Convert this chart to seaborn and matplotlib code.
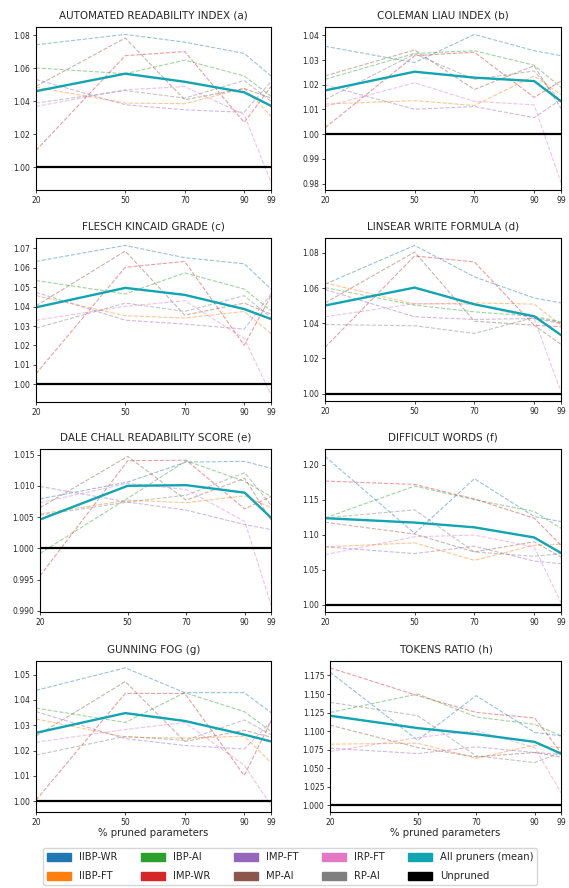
"""
Readability metrics vs. pruning level, normalised to the unpruned model.
Eight panels, one per metric, plus a shared legend at the bottom.
"""

import matplotlib
matplotlib.use("Agg")
import matplotlib.pyplot as plt
from matplotlib.patches import Patch
import pandas as pd
import seaborn as sns

# --- data ------------------------------------------------------------------
sparsity = [20, 50, 70, 90, 99]
pruners = ["IIBP-WR", "IIBP-FT", "IBP-AI", "IMP-WR", "IMP-FT", "MP-AI", "IRP-FT", "RP-AI"]
unpruned = [1.0, 1.0, 1.0, 1.0, 1.0]

ari = {
    "IIBP-WR": [1.0743, 1.0806, 1.0759, 1.0691, 1.0554],
    "IIBP-FT": [1.0486, 1.0390, 1.0386, 1.0480, 1.0310],
    "IBP-AI":  [1.0603, 1.0568, 1.0650, 1.0554, 1.0431],
    "IMP-WR":  [1.0103, 1.0677, 1.0702, 1.0273, 1.0490],
    "IMP-FT":  [1.0533, 1.0380, 1.0349, 1.0334, 1.0520],
    "MP-AI":   [1.0492, 1.0784, 1.0410, 1.0478, 1.0420],
    "IRP-FT":  [1.0369, 1.0470, 1.0490, 1.0320, 0.9908],
    "RP-AI":   [1.0390, 1.0466, 1.0420, 1.0527, 1.0400],
}
ari_mean = [1.0462, 1.0568, 1.0519, 1.0455, 1.0373]

cli = {
    "IIBP-WR": [1.0356, 1.0290, 1.0404, 1.0338, 1.0318],
    "IIBP-FT": [1.0122, 1.0136, 1.0116, 1.0236, 1.0160],
    "IBP-AI":  [1.0222, 1.0327, 1.0338, 1.0279, 1.0190],
    "IMP-WR":  [1.0026, 1.0318, 1.0332, 1.0149, 1.0215],
    "IMP-FT":  [1.0199, 1.0101, 1.0112, 1.0067, 1.0140],
    "MP-AI":   [1.0236, 1.0341, 1.0181, 1.0277, 1.0105],
    "IRP-FT":  [1.0112, 1.0208, 1.0133, 1.0119, 0.9804],
    "RP-AI":   [1.0140, 1.0325, 1.0222, 1.0256, 1.0133],
}
cli_mean = [1.0177, 1.0253, 1.0229, 1.0215, 1.0133]

fkg = {
    "IIBP-WR": [1.0632, 1.0714, 1.0651, 1.0620, 1.0490],
    "IIBP-FT": [1.0456, 1.0353, 1.0341, 1.0375, 1.0262],
    "IBP-AI":  [1.0534, 1.0465, 1.0573, 1.0490, 1.0379],
    "IMP-WR":  [1.0055, 1.0602, 1.0632, 1.0201, 1.0456],
    "IMP-FT":  [1.0473, 1.0330, 1.0310, 1.0284, 1.0465],
    "MP-AI":   [1.0404, 1.0685, 1.0356, 1.0418, 1.0361],
    "IRP-FT":  [1.0330, 1.0401, 1.0430, 1.0236, 0.9948],
    "RP-AI":   [1.0289, 1.0418, 1.0375, 1.0456, 1.0344],
}
fkg_mean = [1.0396, 1.0496, 1.0460, 1.0387, 1.0336]

lwf = {
    "IIBP-WR": [1.0622, 1.0843, 1.0664, 1.0544, 1.0516],
    "IIBP-FT": [1.0630, 1.0509, 1.0516, 1.0509, 1.0389],
    "IBP-AI":  [1.0603, 1.0503, 1.0465, 1.0440, 1.0408],
    "IMP-WR":  [1.0263, 1.0783, 1.0749, 1.0389, 1.0380],
    "IMP-FT":  [1.0592, 1.0437, 1.0422, 1.0427, 1.0399],
    "MP-AI":   [1.0516, 1.0805, 1.0412, 1.0389, 1.0280],
    "IRP-FT":  [1.0437, 1.0512, 1.0508, 1.0427, 1.0011],
    "RP-AI":   [1.0393, 1.0386, 1.0342, 1.0433, 1.0403],
}
lwf_mean = [1.0501, 1.0603, 1.0508, 1.0440, 1.0333]

dcr = {
    "IIBP-WR": [1.0079, 1.0106, 1.0138, 1.0139, 1.0128],
    "IIBP-FT": [1.0055, 1.0077, 1.0073, 1.0084, 1.0065],
    "IBP-AI":  [0.9992, 1.0080, 1.0140, 1.0107, 1.0083],
    "IMP-WR":  [0.9956, 1.0140, 1.0141, 1.0063, 1.0083],
    "IMP-FT":  [1.0099, 1.0074, 1.0061, 1.0038, 1.0030],
    "MP-AI":   [1.0065, 1.0147, 1.0077, 1.0112, 1.0045],
    "IRP-FT":  [1.0073, 1.0104, 1.0094, 1.0043, 0.9910],
    "RP-AI":   [1.0053, 1.0074, 1.0085, 1.0121, 1.0069],
}
dcr_mean = [1.0046, 1.0100, 1.0101, 1.0089, 1.0049]

dw = {
    "IIBP-WR": [1.2121, 1.1019, 1.1802, 1.1261, 1.1188],
    "IIBP-FT": [1.0826, 1.0884, 1.0633, 1.0850, 1.0865],
    "IBP-AI":  [1.1240, 1.1696, 1.1502, 1.1333, 1.1092],
    "IMP-WR":  [1.1768, 1.1720, 1.1512, 1.1237, 1.0850],
    "IMP-FT":  [1.0826, 1.0730, 1.0836, 1.0623, 1.0585],
    "MP-AI":   [1.1179, 1.1010, 1.0754, 1.0899, 1.0681],
    "IRP-FT":  [1.0715, 1.0971, 1.0995, 1.0826, 1.0029],
    "RP-AI":   [1.1240, 1.1357, 1.0754, 1.0691, 1.0730],
}
dw_mean = [1.1237, 1.1174, 1.1106, 1.0961, 1.0739]

gf = {
    "IIBP-WR": [1.0438, 1.0527, 1.0429, 1.0429, 1.0350],
    "IIBP-FT": [1.0325, 1.0253, 1.0249, 1.0257, 1.0152],
    "IBP-AI":  [1.0368, 1.0311, 1.0429, 1.0354, 1.0276],
    "IMP-WR":  [1.0004, 1.0426, 1.0426, 1.0101, 1.0317],
    "IMP-FT":  [1.0354, 1.0247, 1.0220, 1.0206, 1.0314],
    "MP-AI":   [1.0257, 1.0473, 1.0236, 1.0280, 1.0253],
    "IRP-FT":  [1.0233, 1.0283, 1.0311, 1.0142, 0.9984],
    "RP-AI":   [1.0182, 1.0256, 1.0240, 1.0321, 1.0263],
}
gf_mean = [1.0270, 1.0348, 1.0317, 1.0263, 1.0236]

tr = {
    "IIBP-WR": [1.1795, 1.0877, 1.1478, 1.0981, 1.0936],
    "IIBP-FT": [1.0823, 1.0836, 1.0633, 1.0809, 1.0778],
    "IBP-AI":  [1.1250, 1.1500, 1.1190, 1.1090, 1.0936],
    "IMP-WR":  [1.1853, 1.1478, 1.1252, 1.1175, 1.0710],
    "IMP-FT":  [1.0769, 1.0696, 1.0787, 1.0710, 1.0687],
    "MP-AI":   [1.1080, 1.0778, 1.0651, 1.0710, 1.0650],
    "IRP-FT":  [1.0723, 1.0913, 1.1004, 1.0778, 1.0167],
    "RP-AI":   [1.1388, 1.1207, 1.0665, 1.0574, 1.0710],
}
tr_mean = [1.1207, 1.1040, 1.0958, 1.0854, 1.0696]

panels = [
    ("AUTOMATED READABILITY INDEX (a)", ari, ari_mean),
    ("COLEMAN LIAU INDEX (b)", cli, cli_mean),
    ("FLESCH KINCAID GRADE (c)", fkg, fkg_mean),
    ("LINSEAR WRITE FORMULA (d)", lwf, lwf_mean),
    ("DALE CHALL READABILITY SCORE (e)", dcr, dcr_mean),
    ("DIFFICULT WORDS (f)", dw, dw_mean),
    ("GUNNING FOG (g)", gf, gf_mean),
    ("TOKENS RATIO (h)", tr, tr_mean),
]

# --- styling ---------------------------------------------------------------
sns.set_style("ticks")
plt.rcParams["font.family"] = ["DejaVu Sans"]
palette = dict(zip(pruners, sns.color_palette("tab10", 8)))
mean_color = "#10a5b0"

W, H = 569, 888
# axes boxes in pixels (x0, y0, x1, y1), measured from the top-left
boxes = [
    (36, 27, 271, 190), (325, 27, 561, 190),
    (36, 238, 271, 402), (325, 238, 561, 401),
    (40, 449, 271, 612), (325, 449, 561, 612),
    (36, 661, 271, 812), (330, 661, 561, 812),
]

fig = plt.figure(figsize=(W / 100, H / 100), dpi=100)

for i, (title, metric, mean_vals) in enumerate(panels):
    x0, y0, x1, y1 = boxes[i]
    ax = fig.add_axes([x0 / W, 1 - y1 / H, (x1 - x0) / W, (y1 - y0) / H])

    df = pd.DataFrame(metric, index=sparsity)
    df.index.name = "sparsity"
    long_df = df.reset_index().melt(id_vars="sparsity", var_name="pruner", value_name="value")

    sns.lineplot(data=long_df, x="sparsity", y="value", hue="pruner", palette=palette,
                 linestyle="--", linewidth=0.8, alpha=0.45, legend=False, ax=ax)
    sns.lineplot(x=sparsity, y=unpruned, color="black", linewidth=1.6, ax=ax)
    sns.lineplot(x=sparsity, y=mean_vals, color=mean_color, linewidth=1.7, ax=ax)

    ax.set_xlim(20, 99)
    ax.set_xticks(sparsity)
    ax.set_title(title, fontsize=7.5, pad=6)
    ax.set_ylabel("")
    ax.set_xlabel("% pruned parameters" if i >= 6 else "", fontsize=7.3, labelpad=1)
    ax.tick_params(labelsize=5.5, length=2.5, width=0.6, pad=1.5)
    for sp in ax.spines.values():
        sp.set_linewidth(0.8)
        sp.set_color("black")

handles = [Patch(color=palette[p], label=p) for p in pruners]
handles += [Patch(color=mean_color, label="All pruners (mean)"),
            Patch(color="black", label="Unpruned")]
fig.legend(handles=handles, loc="center", bbox_to_anchor=(0.51, 0.024), ncol=5,
           fontsize=7.2, handlelength=2.4, handleheight=0.8, handletextpad=0.8,
           columnspacing=2.35, labelspacing=0.9, frameon=True)

fig.savefig("out.png", dpi=100)
